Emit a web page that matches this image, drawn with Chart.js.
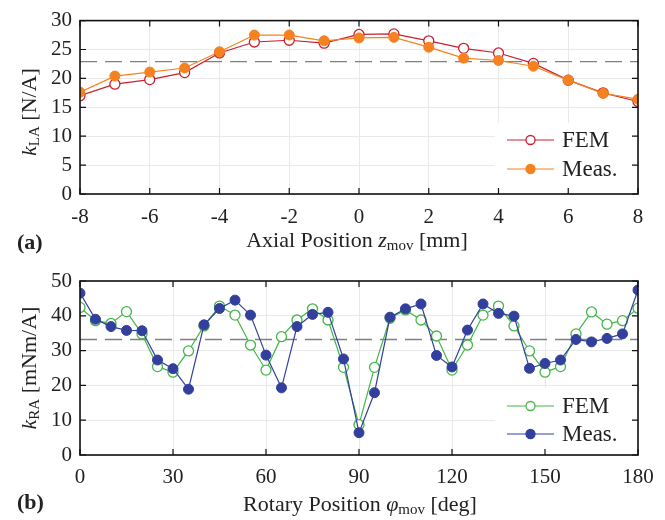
<!DOCTYPE html>
<html>
<head>
<meta charset="utf-8">
<script src="https://cdn.jsdelivr.net/npm/chart.js@4/dist/chart.umd.min.js"></script>
<style>
  html, body { margin: 0; padding: 0; background: #fff; }
  .panel { width: 665px; height: 260px; position: relative; }
  canvas { display: block; }
</style>
</head>
<body>
<div class="panel"><canvas id="axialChart" width="665" height="260"></canvas></div>
<div class="panel"><canvas id="rotaryChart" width="665" height="260"></canvas></div>
<script>
// axial position sweep, force constant [N/A]
const axialPos = [-8, -7, -6, -5, -4, -3, -2, -1, 0, 1, 2, 3, 4, 5, 6, 7, 8];
const femLA = [17.0, 19.0, 19.8, 21.0, 24.4, 26.3, 26.6, 26.1, 27.6, 27.7, 26.5, 25.2, 24.4, 22.6, 19.7, 17.5, 16.0];
const measLA = [17.6, 20.4, 21.1, 21.8, 24.6, 27.5, 27.5, 26.5, 27.0, 27.1, 25.4, 23.5, 23.1, 22.1, 19.7, 17.4, 16.4];
const meanLA = 22.9;

// rotary position sweep, torque constant [mNm/A]
const rotaryPos = [0, 5, 10, 15, 20, 25, 30, 35, 40, 45, 50, 55, 60, 65, 70, 75, 80, 85, 90,
  95, 100, 105, 110, 115, 120, 125, 130, 135, 140, 145, 150, 155, 160, 165, 170, 175, 180];
const femRA = [42.4, 38.6, 37.8, 41.2, 34.8, 25.4, 23.8, 29.9, 37.1, 42.8, 40.2, 31.6, 24.4,
  34.0, 38.8, 42.0, 38.8, 25.2, 8.7, 25.2, 39.3, 41.7, 38.8, 34.2, 24.4,
  31.6, 40.2, 42.8, 37.1, 29.9, 23.8, 25.4, 34.8, 41.1, 37.6, 38.6, 42.2];
const measRA = [46.5, 39.0, 36.9, 35.8, 35.7, 27.3, 24.8, 18.9, 37.4, 42.1, 44.5, 40.2, 28.7,
  19.3, 36.9, 40.4, 41.0, 27.6, 6.4, 17.9, 39.6, 42.0, 43.4, 28.6, 25.3,
  35.9, 43.4, 40.7, 39.9, 24.9, 26.3, 27.3, 33.2, 32.5, 33.5, 34.8, 47.4];
const meanRA = 33.2;

const SERIF = "'Liberation Serif', 'DejaVu Serif', serif";

function pts(xs, ys) {
  return xs.map((x, i) => ({ x: x, y: ys[i] }));
}

// draw a run of text pieces (normal / italic / subscript) centred on x,y
function drawRich(ctx, parts, x, y, angle) {
  ctx.save();
  ctx.translate(x, y);
  if (angle) ctx.rotate(angle);
  ctx.textBaseline = "middle";
  ctx.textAlign = "left";
  ctx.fillStyle = "#222";
  let total = 0;
  parts.forEach(p => { ctx.font = p.font; total += ctx.measureText(p.text).width; });
  let cx = -total / 2;
  parts.forEach(p => {
    ctx.font = p.font;
    ctx.fillText(p.text, cx, p.dy || 0);
    cx += ctx.measureText(p.text).width;
  });
  ctx.restore();
}

// box around the plot area plus inward tick marks on all four sides
const framePlugin = {
  id: "frame",
  afterDatasetsDraw(chart) {
    const ctx = chart.ctx;
    const a = chart.chartArea;
    const xs = chart.scales.x, ys = chart.scales.y;
    ctx.save();
    ctx.strokeStyle = "#111";
    ctx.lineWidth = 1.2;
    ctx.beginPath();
    xs.ticks.forEach(t => {
      const px = xs.getPixelForValue(t.value);
      ctx.moveTo(px, a.bottom); ctx.lineTo(px, a.bottom - 6);
      ctx.moveTo(px, a.top); ctx.lineTo(px, a.top + 6);
    });
    ys.ticks.forEach(t => {
      const py = ys.getPixelForValue(t.value);
      ctx.moveTo(a.left, py); ctx.lineTo(a.left + 6, py);
      ctx.moveTo(a.right, py); ctx.lineTo(a.right - 6, py);
    });
    ctx.stroke();
    ctx.lineWidth = 1.6;
    ctx.strokeRect(a.left, a.top, a.right - a.left, a.bottom - a.top);
    ctx.restore();
  }
};

// legend in the lower right corner, on a white patch over the grid
const insetLegend = {
  id: "insetLegend",
  beforeDatasetsDraw(chart, args, opts) {
    const ctx = chart.ctx;
    const b = opts.box;
    ctx.save();
    ctx.fillStyle = "#fff";
    ctx.fillRect(b[0], b[1], b[2], b[3]);
    ctx.restore();
  },
  afterDraw(chart, args, opts) {
    const ctx = chart.ctx;
    const b = opts.box;
    const entries = chart.data.datasets.filter(d => d.label);
    entries.forEach((d, i) => {
      const y = opts.rows[i];
      const x0 = b[0] + 12, x1 = b[0] + 59, xm = (x0 + x1) / 2;
      ctx.save();
      ctx.strokeStyle = d.borderColor;
      ctx.lineWidth = d.borderWidth;
      ctx.beginPath();
      ctx.moveTo(x0, y); ctx.lineTo(x1, y);
      ctx.stroke();
      ctx.beginPath();
      ctx.arc(xm, y, 4.5, 0, Math.PI * 2);
      ctx.fillStyle = d.pointBackgroundColor;
      ctx.fill();
      ctx.lineWidth = 1.3;
      ctx.stroke();
      ctx.fillStyle = "#222";
      ctx.font = "23px " + SERIF;
      ctx.textBaseline = "middle";
      ctx.fillText(d.label, x1 + 8, y + 1);
      ctx.restore();
    });
  }
};

// axis titles and panel tag
const axisTitles = {
  id: "axisTitles",
  afterDraw(chart, args, opts) {
    const ctx = chart.ctx;
    drawRich(ctx, opts.xTitle, opts.xAt[0], opts.xAt[1], 0);
    drawRich(ctx, opts.yTitle, opts.yAt[0], opts.yAt[1], -Math.PI / 2);
    ctx.save();
    ctx.font = "bold 22px " + SERIF;
    ctx.fillStyle = "#222";
    ctx.textBaseline = "middle";
    ctx.fillText(opts.tag, 17, opts.tagY);
    ctx.restore();
  }
};

const REG = "22px " + SERIF;
const ITA = "italic 22px " + SERIF;
const SUB = "15px " + SERIF;

function makeChart(id, cfg) {
  return new Chart(document.getElementById(id), {
    type: "line",
    data: {
      datasets: [
        {
          label: "FEM", data: pts(cfg.xs, cfg.fem), order: 1,
          borderColor: cfg.femColor, borderWidth: 1.2,
          pointRadius: 5, pointBorderWidth: 1.3,
          pointBackgroundColor: "#fff", pointBorderColor: cfg.femColor
        },
        {
          label: "Meas.", data: pts(cfg.xs, cfg.meas), order: 0,
          borderColor: cfg.measColor, borderWidth: 1.2,
          pointRadius: 5, pointBorderWidth: 1,
          pointBackgroundColor: cfg.measColor, pointBorderColor: cfg.measColor
        },
        {
          label: "", data: [{ x: cfg.xMin, y: cfg.mean }, { x: cfg.xMax, y: cfg.mean }], order: 2,
          borderColor: "#808080", borderWidth: 1.4, borderDash: [17, 8],
          pointRadius: 0
        }
      ]
    },
    options: {
      responsive: false,
      animation: false,
      events: [],
      layout: { padding: { top: cfg.top, right: 27, left: 0, bottom: 0 } },
      scales: {
        x: {
          type: "linear", min: cfg.xMin, max: cfg.xMax,
          afterFit: s => { s.height = cfg.xHeight; },
          ticks: { stepSize: cfg.xStep, padding: cfg.xPad, color: "#222", font: { family: SERIF, size: 21 } },
          grid: { color: "#e9e9e9", lineWidth: 1, drawTicks: false },
          border: { display: false }
        },
        y: {
          min: 0, max: cfg.yMax,
          afterFit: s => { s.width = 80; },
          ticks: { stepSize: cfg.yStep, padding: 8, color: "#222", font: { family: SERIF, size: 21 } },
          grid: { color: "#e9e9e9", lineWidth: 1, drawTicks: false },
          border: { display: false }
        }
      },
      plugins: {
        legend: { display: false },
        tooltip: { enabled: false },
        insetLegend: { box: cfg.legendBox, rows: cfg.legendRows },
        axisTitles: {
          xTitle: cfg.xTitle, xAt: cfg.xAt,
          yTitle: cfg.yTitle, yAt: cfg.yAt,
          tag: cfg.tag, tagY: 243
        }
      }
    },
    plugins: [insetLegend, framePlugin, axisTitles]
  });
}

makeChart("axialChart", {
  xs: axialPos, fem: femLA, meas: measLA, mean: meanLA,
  femColor: "#c8202f", measColor: "#f5821f",
  xMin: -8, xMax: 8, xStep: 2, yMax: 30, yStep: 5,
  top: 20, xHeight: 66, xPad: 11,
  legendBox: [495, 123, 142, 70], legendRows: [140, 169],
  xTitle: [
    { text: "Axial Position ", font: REG },
    { text: "z", font: ITA },
    { text: "mov", font: SUB, dy: 5 },
    { text: " [mm]", font: REG }
  ],
  xAt: [357, 241],
  yTitle: [
    { text: "k", font: ITA },
    { text: "LA", font: SUB, dy: 5 },
    { text: " [N/A]", font: REG }
  ],
  yAt: [30, 112],
  tag: "(a)"
});

makeChart("rotaryChart", {
  xs: rotaryPos, fem: femRA, meas: measRA, mean: meanRA,
  femColor: "#44b649", measColor: "#333f9c",
  xMin: 0, xMax: 180, xStep: 30, yMax: 50, yStep: 10,
  top: 21, xHeight: 65, xPad: 10,
  legendBox: [495, 128, 142, 66], legendRows: [146, 174],
  xTitle: [
    { text: "Rotary Position ", font: REG },
    { text: "\u03c6", font: ITA },
    { text: "mov", font: SUB, dy: 5 },
    { text: " [deg]", font: REG }
  ],
  xAt: [360, 245],
  yTitle: [
    { text: "k", font: ITA },
    { text: "RA", font: SUB, dy: 5 },
    { text: " [mNm/A]", font: REG }
  ],
  yAt: [30, 108],
  tag: "(b)"
});
</script>
</body>
</html>
